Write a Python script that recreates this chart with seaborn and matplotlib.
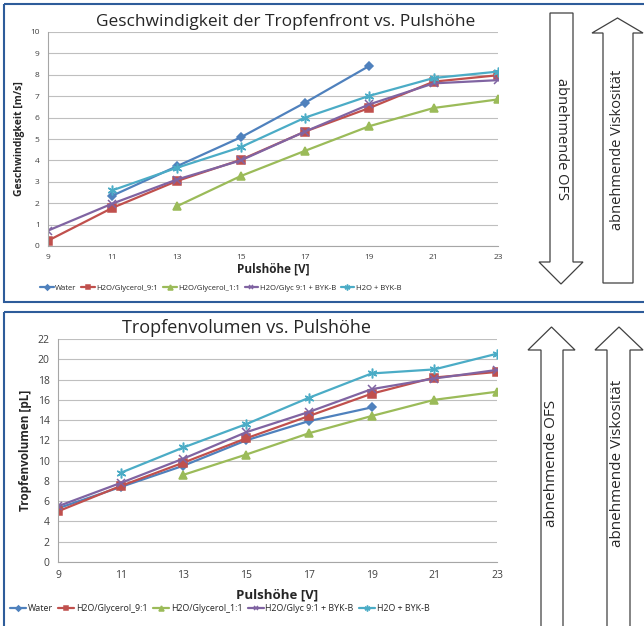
import pandas as pd
import seaborn as sns
import matplotlib
matplotlib.use('Agg')
from matplotlib import pyplot as plt
from matplotlib.patches import Rectangle, Polygon

# data
pulse = [9, 11, 13, 15, 17, 19, 21, 23]
names = ['Water', 'H2O/Glycerol_9:1', 'H2O/Glycerol_1:1',
         'H2O/Glyc 9:1 + BYK-B', 'H2O + BYK-B']

speed_water = [None, 2.35, 3.72, 5.08, 6.70, 8.42, None, None]
speed_gly91 = [0.25, 1.78, 3.03, 4.03, 5.35, 6.45, 7.68, 7.98]
speed_gly11 = [None, None, 1.85, 3.27, 4.45, 5.60, 6.45, 6.85]
speed_gly91_byk = [0.72, 1.98, 3.10, 4.00, 5.35, 6.62, 7.60, 7.75]
speed_h2o_byk = [None, 2.60, 3.65, 4.62, 6.00, 7.02, 7.85, 8.15]

vol_water = [5.3, 7.4, 9.5, 12.0, 13.9, 15.25, None, None]
vol_gly91 = [5.0, 7.5, 9.8, 12.2, 14.4, 16.6, 18.2, 18.75]
vol_gly11 = [None, None, 8.6, 10.6, 12.7, 14.4, 16.0, 16.8]
vol_gly91_byk = [5.5, 7.8, 10.2, 12.8, 14.8, 17.05, 18.1, 18.95]
vol_h2o_byk = [None, 8.8, 11.3, 13.6, 16.2, 18.6, 19.0, 20.55]

colors = ['#4F81BD', '#C0504D', '#9BBB59', '#8064A2', '#4BACC6']
marks = ['D', 's', '^', 'x', (6, 2, 0)]
msizes = [4.5, 6, 6, 6, 7]


def long_form(series):
    rows = []
    for name, vals in zip(names, series):
        for x, v in zip(pulse, vals):
            if v is not None:
                rows.append([name, x, v])
    return pd.DataFrame(rows, columns=['serie', 'puls', 'wert'])


df_speed = long_form([speed_water, speed_gly91, speed_gly11, speed_gly91_byk, speed_h2o_byk])
df_vol = long_form([vol_water, vol_gly91, vol_gly11, vol_gly91_byk, vol_h2o_byk])

sns.set_style('white')
plt.rcParams['font.family'] = ['Open Sans', 'DejaVu Sans']

W, H = 644, 626
fig = plt.figure(figsize=(W / 100, H / 100), dpi=100)


def px_axes(x0, y0, x1, y1):
    return fig.add_axes([x0 / W, (H - y1) / H, (x1 - x0) / W, (y1 - y0) / H])


def draw(ax, df, ymax, ystep, title, title_x, ylabel, tsize, tick_size, lab_size,
         leg_size, leg_anchor, xlab_pad):
    for i, name in enumerate(names):
        sub = df[df.serie == name]
        sns.lineplot(data=sub, x='puls', y='wert', ax=ax, color=colors[i],
                     marker=marks[i], markersize=msizes[i], linewidth=1.6,
                     markeredgecolor=colors[i], markeredgewidth=1.1, label=name)
    ax.set_xlim(9, 23)
    ax.set_ylim(0, ymax)
    ax.set_xticks(pulse)
    ax.set_yticks(range(0, ymax + 1, ystep))
    ax.grid(axis='y', color='#BFBFBF', linewidth=0.8)
    ax.grid(axis='x', visible=False)
    for s in ['top', 'right']:
        ax.spines[s].set_visible(False)
    for s in ['left', 'bottom']:
        ax.spines[s].set_color('#A6A6A6')
        ax.spines[s].set_linewidth(0.8)
    ax.tick_params(axis='both', length=3, width=0.8, color='#A6A6A6',
                   labelsize=tick_size, labelcolor='#404040', pad=3)
    ax.set_title(title, fontsize=tsize, x=title_x, pad=4)
    ax.set_ylabel(ylabel, fontsize=lab_size, fontweight='bold')
    ax.set_xlabel('Pulshöhe [V]', fontsize=lab_size + 1, fontweight='bold', labelpad=xlab_pad)
    h, l = ax.get_legend_handles_labels()
    ax.legend(h, l, ncol=5, loc='center left', bbox_to_anchor=leg_anchor, frameon=False,
              fontsize=leg_size, handlelength=1.8, handletextpad=0.2, columnspacing=0.6,
              markerscale=0.6, borderaxespad=0, borderpad=0)


ax1 = px_axes(48, 32, 498, 246)
draw(ax1, df_speed, 10, 1, 'Geschwindigkeit der Tropfenfront vs. Pulshöhe', 0.527,
     'Geschwindigkeit [m/s]', 12.5, 6, 7.5, 5.5, ((40 - 48) / 450, -0.196), 1)

ax2 = px_axes(58, 339, 497, 562)
draw(ax2, df_vol, 22, 2, 'Tropfenvolumen vs. Pulshöhe', 0.43,
     'Tropfenvolumen [pL]', 13, 7.5, 8.5, 6.4, ((10 - 58) / 439, -0.21), 5)

# overlay for frames and arrows
ov = fig.add_axes([0, 0, 1, 1], zorder=-1)
ov.set_xlim(0, W)
ov.set_ylim(H, 0)
ov.axis('off')
ov.patch.set_alpha(0)

frame = '#2E5C9A'
ov.add_patch(Rectangle((4, 4), 660, 298, fill=False, edgecolor=frame, linewidth=1.5))
ov.add_patch(Rectangle((4, 312), 660, 330, fill=False, edgecolor=frame, linewidth=1.5))


def arrow(x0, x1, hx0, hx1, tail, base, tip):
    pts = [(x0, tail), (x0, base), (hx0, base), ((hx0 + hx1) / 2, tip),
           (hx1, base), (x1, base), (x1, tail)]
    ov.add_patch(Polygon(pts, closed=True, facecolor='white', edgecolor='#404040',
                         linewidth=0.9, zorder=3))


arrow(550, 573, 539, 583, 13, 262, 284)
arrow(603, 633, 592, 643, 283, 33, 18)
arrow(541, 563, 528, 575, 640, 350, 327)
arrow(607, 630, 595, 643, 640, 350, 327)

ov.text(562, 139, 'abnehmende OFS', rotation=-90, ha='center', va='center', fontsize=10.5, zorder=4)
ov.text(618, 150, 'abnehmende Viskosität', rotation=90, ha='center', va='center', fontsize=10.5, zorder=4)
ov.text(552, 463, 'abnehmende OFS', rotation=90, ha='center', va='center', fontsize=11, zorder=4)
ov.text(618, 463, 'abnehmende Viskosität', rotation=90, ha='center', va='center', fontsize=11, zorder=4)

fig.savefig('out.png', dpi=100)
